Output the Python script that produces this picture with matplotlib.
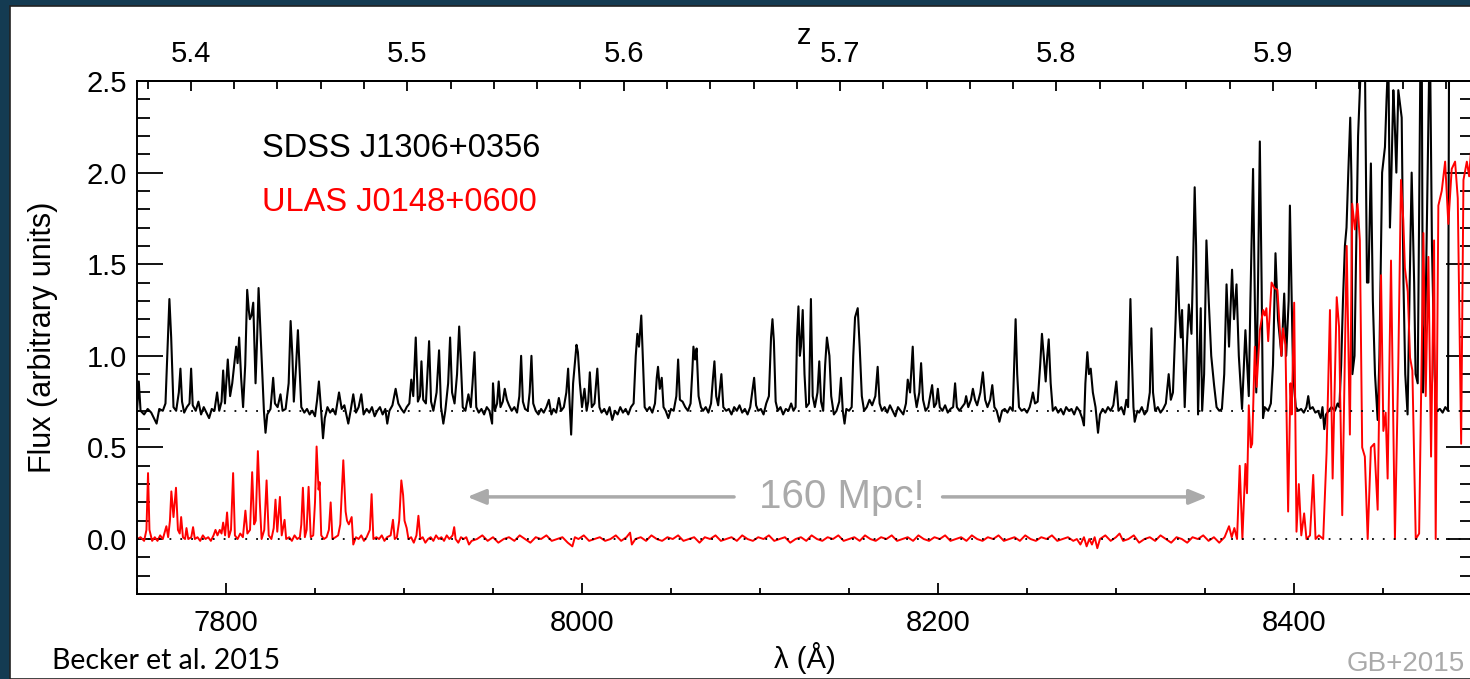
import numpy as np
import matplotlib.pyplot as plt
from matplotlib.patches import Rectangle
from matplotlib.ticker import MultipleLocator, FixedLocator

# (wavelength in Angstrom, flux)
sdss = [
    (7750.0, 0.70), (7751.0, 0.86), (7752.0, 0.70), (7754.0, 0.68), (7756.0, 0.71), (7758.0, 0.69),
    (7759.5, 0.66), (7761.0, 0.63), (7762.5, 0.71), (7764.5, 0.70), (7766.0, 0.74), (7767.2, 1.05),
    (7768.2, 1.31), (7769.2, 1.10), (7770.5, 0.72), (7772.0, 0.70), (7773.5, 0.80), (7774.4, 0.93),
    (7775.3, 0.75), (7776.5, 0.69), (7778.0, 0.72), (7779.5, 0.74), (7780.4, 0.93), (7781.3, 0.73),
    (7783.0, 0.70), (7784.5, 0.75), (7786.0, 0.68), (7787.5, 0.72), (7789.0, 0.69), (7790.5, 0.66),
    (7792.0, 0.71), (7793.5, 0.70), (7795.0, 0.80), (7796.2, 0.70), (7797.5, 0.75), (7798.4, 0.92),
    (7799.4, 0.74), (7801.0, 0.98), (7802.3, 0.78), (7803.5, 0.85), (7805.7, 1.05), (7806.5, 0.96),
    (7807.4, 1.10), (7808.5, 0.88), (7809.6, 0.72), (7810.8, 0.95), (7811.9, 1.36), (7812.8, 1.25),
    (7813.4, 1.20), (7814.3, 1.22), (7815.3, 1.29), (7816.6, 0.85), (7817.5, 1.10), (7818.3, 1.37),
    (7819.3, 1.15), (7820.3, 0.93), (7821.3, 0.70), (7822.2, 0.58), (7823.2, 0.68), (7825.0, 0.71),
    (7826.5, 0.88), (7827.5, 0.74), (7829.0, 0.72), (7830.6, 0.79), (7831.8, 0.70), (7833.5, 0.71),
    (7835.2, 0.85), (7836.3, 1.19), (7837.3, 1.00), (7838.1, 0.75), (7839.4, 0.95), (7840.4, 1.14),
    (7841.4, 0.92), (7842.3, 0.72), (7844.0, 0.69), (7845.5, 0.71), (7847.0, 0.68), (7848.5, 0.70),
    (7850.0, 0.67), (7851.2, 0.76), (7852.2, 0.86), (7853.3, 0.72), (7854.5, 0.55), (7855.5, 0.66),
    (7857.0, 0.72), (7858.5, 0.69), (7860.0, 0.71), (7861.5, 0.68), (7863.5, 0.80), (7865.0, 0.71),
    (7866.5, 0.73), (7868.7, 0.63), (7870.0, 0.70), (7871.5, 0.79), (7873.0, 0.69), (7874.5, 0.72),
    (7876.0, 0.79), (7877.3, 0.68), (7879.0, 0.71), (7880.5, 0.69), (7882.0, 0.72), (7883.5, 0.67),
    (7885.0, 0.70), (7886.5, 0.72), (7888.0, 0.68), (7889.5, 0.71), (7890.6, 0.63), (7891.8, 0.70),
    (7893.5, 0.73), (7895.3, 0.82), (7896.8, 0.74), (7898.5, 0.71), (7900.0, 0.69), (7901.5, 0.72),
    (7903.0, 0.74), (7904.1, 0.87), (7905.2, 0.78), (7906.6, 1.10), (7907.8, 0.75), (7909.0, 0.78),
    (7909.8, 0.97), (7910.8, 0.76), (7912.3, 0.74), (7914.1, 1.08), (7915.2, 0.75), (7916.5, 0.70),
    (7918.3, 0.80), (7919.7, 1.03), (7920.8, 0.72), (7922.1, 0.63), (7923.2, 0.70), (7924.8, 0.85),
    (7925.9, 1.10), (7927.0, 0.80), (7928.4, 0.74), (7929.8, 0.90), (7931.0, 1.16), (7932.0, 0.95),
    (7933.0, 0.72), (7934.5, 0.70), (7936.2, 0.79), (7937.5, 0.72), (7938.5, 0.85), (7939.6, 1.02),
    (7940.6, 0.72), (7942.0, 0.69), (7943.5, 0.71), (7945.0, 0.68), (7946.5, 0.72), (7948.0, 0.70),
    (7949.5, 0.63), (7950.0, 0.85), (7951.0, 0.70), (7952.3, 0.74), (7953.2, 0.86), (7954.2, 0.72),
    (7955.5, 0.75), (7956.6, 0.82), (7957.8, 0.76), (7959.0, 0.73), (7960.5, 0.70), (7962.0, 0.72),
    (7963.5, 0.69), (7964.8, 0.78), (7965.8, 1.00), (7966.8, 0.75), (7968.0, 0.71), (7969.5, 0.70),
    (7970.6, 0.80), (7971.6, 1.00), (7972.6, 0.74), (7974.0, 0.70), (7975.5, 0.68), (7977.0, 0.71),
    (7978.5, 0.69), (7980.0, 0.72), (7981.4, 0.76), (7982.8, 0.68), (7984.0, 0.71), (7985.5, 0.69),
    (7987.0, 0.77), (7988.3, 0.70), (7989.8, 0.72), (7991.2, 0.80), (7992.2, 0.93), (7993.0, 0.75),
    (7993.9, 0.57), (7995.0, 0.85), (7996.9, 1.06), (7997.7, 1.02), (7998.8, 0.85), (8000.0, 0.72),
    (8001.4, 0.82), (8002.6, 0.70), (8003.5, 0.75), (8004.4, 0.91), (8005.5, 0.72), (8007.0, 0.74),
    (8008.6, 0.93), (8009.8, 0.72), (8011.0, 0.69), (8012.5, 0.71), (8014.0, 0.68), (8015.5, 0.72),
    (8017.0, 0.65), (8018.5, 0.70), (8020.0, 0.68), (8021.5, 0.72), (8023.0, 0.69), (8024.5, 0.71),
    (8026.0, 0.68), (8027.5, 0.72), (8029.0, 0.74), (8030.2, 1.00), (8031.1, 1.12), (8032.0, 1.05),
    (8033.3, 1.22), (8034.3, 0.95), (8035.2, 0.72), (8036.5, 0.70), (8038.0, 0.72), (8039.5, 0.69),
    (8041.0, 0.74), (8042.0, 0.88), (8042.7, 0.94), (8043.7, 0.82), (8044.8, 0.88), (8045.8, 0.72),
    (8047.0, 0.70), (8048.5, 0.66), (8050.0, 0.71), (8051.5, 0.70), (8053.0, 0.78), (8054.0, 0.98),
    (8055.0, 0.76), (8056.5, 0.75), (8058.0, 0.72), (8059.5, 0.70), (8061.0, 0.74), (8062.0, 0.92),
    (8062.6, 1.05), (8063.5, 0.98), (8064.4, 1.04), (8065.5, 0.78), (8066.8, 0.72), (8068.0, 0.70),
    (8069.5, 0.72), (8071.0, 0.69), (8072.5, 0.74), (8073.6, 0.88), (8074.4, 0.97), (8075.4, 0.78),
    (8076.5, 0.73), (8078.3, 0.90), (8079.4, 0.72), (8081.0, 0.70), (8082.5, 0.71), (8084.0, 0.68),
    (8085.5, 0.72), (8087.0, 0.70), (8088.5, 0.73), (8090.0, 0.69), (8091.5, 0.71), (8093.0, 0.68),
    (8094.5, 0.72), (8096.7, 0.88), (8097.8, 0.73), (8099.0, 0.70), (8100.5, 0.71), (8102.0, 0.68),
    (8103.5, 0.74), (8105.0, 0.78), (8106.2, 1.10), (8107.0, 1.20), (8107.8, 1.08), (8108.8, 0.75),
    (8110.0, 0.70), (8111.5, 0.72), (8113.0, 0.68), (8114.5, 0.71), (8116.0, 0.70), (8117.5, 0.74),
    (8118.8, 0.70), (8120.0, 0.72), (8120.8, 1.10), (8121.6, 1.27), (8122.4, 1.00), (8123.0, 1.05),
    (8124.0, 1.25), (8125.0, 0.90), (8126.0, 0.72), (8127.5, 0.74), (8128.6, 1.31), (8129.6, 0.78),
    (8130.8, 0.72), (8132.3, 0.80), (8133.3, 0.97), (8134.3, 0.75), (8135.5, 0.70), (8136.6, 0.95),
    (8137.6, 1.10), (8139.0, 1.00), (8140.0, 0.78), (8141.5, 0.68), (8143.0, 0.70), (8144.5, 0.75),
    (8145.5, 0.88), (8146.5, 0.70), (8147.5, 0.63), (8148.5, 0.71), (8150.0, 0.70), (8151.5, 0.72),
    (8152.4, 1.00), (8153.4, 1.21), (8154.9, 1.26), (8156.0, 1.05), (8157.2, 0.78), (8158.5, 0.70),
    (8160.0, 0.72), (8161.5, 0.76), (8163.0, 0.73), (8164.8, 0.78), (8166.1, 0.94), (8167.2, 0.74),
    (8168.5, 0.70), (8170.0, 0.72), (8171.5, 0.69), (8173.0, 0.73), (8174.5, 0.70), (8176.0, 0.67),
    (8177.5, 0.72), (8179.0, 0.70), (8180.5, 0.68), (8182.0, 0.74), (8183.0, 0.87), (8184.3, 0.80),
    (8185.8, 1.05), (8186.8, 0.80), (8188.0, 0.72), (8189.5, 0.80), (8190.5, 0.96), (8191.6, 0.76),
    (8193.0, 0.70), (8194.5, 0.72), (8195.6, 0.78), (8196.7, 0.84), (8197.8, 0.72), (8199.0, 0.74),
    (8199.9, 0.82), (8201.0, 0.72), (8202.5, 0.70), (8204.0, 0.73), (8205.5, 0.69), (8207.0, 0.71),
    (8208.5, 0.72), (8209.6, 0.85), (8210.6, 0.72), (8212.0, 0.70), (8213.5, 0.72), (8215.0, 0.74),
    (8215.8, 0.78), (8217.0, 0.72), (8218.5, 0.76), (8219.6, 0.82), (8220.8, 0.76), (8222.0, 0.73),
    (8223.8, 0.80), (8225.2, 0.91), (8226.5, 0.76), (8227.8, 0.72), (8229.3, 0.76), (8230.5, 0.84),
    (8231.7, 0.72), (8233.0, 0.70), (8234.5, 0.64), (8236.0, 0.70), (8237.5, 0.71), (8239.0, 0.69),
    (8240.5, 0.72), (8242.0, 0.70), (8242.8, 0.95), (8243.6, 1.20), (8244.5, 0.90), (8245.5, 0.72),
    (8247.0, 0.70), (8248.5, 0.71), (8250.0, 0.69), (8251.5, 0.72), (8252.5, 0.76), (8253.3, 0.80),
    (8254.5, 0.74), (8256.0, 0.75), (8257.4, 0.95), (8258.4, 1.12), (8259.4, 1.00), (8260.5, 0.86),
    (8261.4, 1.00), (8262.2, 1.09), (8263.3, 0.85), (8264.5, 0.70), (8266.0, 0.72), (8267.5, 0.69),
    (8269.0, 0.71), (8270.5, 0.68), (8272.0, 0.72), (8273.5, 0.70), (8275.0, 0.71), (8276.5, 0.68),
    (8278.0, 0.72), (8279.5, 0.70), (8281.0, 0.66), (8282.0, 0.62), (8282.8, 0.85), (8283.9, 1.02),
    (8284.8, 0.90), (8285.8, 0.93), (8287.0, 0.80), (8288.5, 0.72), (8289.9, 0.58), (8291.0, 0.68),
    (8292.5, 0.71), (8294.0, 0.69), (8295.5, 0.72), (8297.0, 0.70), (8298.5, 0.73), (8300.2, 0.86),
    (8301.4, 0.70), (8303.0, 0.72), (8304.5, 0.68), (8305.8, 0.76), (8306.8, 0.72), (8307.4, 1.00),
    (8308.1, 1.31), (8308.9, 1.00), (8309.8, 0.72), (8310.5, 0.64), (8312.0, 0.70), (8313.0, 0.69),
    (8314.5, 0.72), (8316.0, 0.68), (8317.5, 0.70), (8319.0, 0.80), (8319.9, 1.15), (8320.8, 0.80),
    (8322.0, 0.70), (8323.5, 0.72), (8325.0, 0.69), (8326.5, 0.71), (8328.0, 0.74), (8329.6, 0.90),
    (8330.8, 0.76), (8332.0, 0.80), (8333.5, 1.20), (8334.5, 1.54), (8335.5, 1.25), (8336.4, 1.10),
    (8337.1, 1.25), (8338.0, 0.95), (8338.6, 0.72), (8339.8, 1.05), (8340.9, 1.28), (8342.4, 1.12),
    (8343.3, 1.50), (8344.2, 1.92), (8345.0, 1.60), (8346.1, 0.68), (8347.6, 1.26), (8348.4, 0.70),
    (8349.5, 0.90), (8350.8, 1.63), (8352.1, 1.30), (8353.5, 1.00), (8355.1, 0.84), (8356.5, 0.72),
    (8358.0, 0.70), (8359.5, 0.71), (8360.8, 0.90), (8362.1, 1.39), (8363.5, 1.05), (8365.2, 1.47),
    (8366.3, 1.20), (8367.7, 1.39), (8369.0, 1.00), (8370.8, 0.71), (8372.7, 1.14), (8374.6, 0.78),
    (8375.5, 1.30), (8377.0, 2.02), (8378.0, 1.30), (8378.8, 0.80), (8379.8, 1.40), (8380.8, 2.17),
    (8381.8, 1.40), (8382.6, 0.66), (8383.5, 0.72), (8385.5, 0.70), (8387.0, 0.74), (8388.2, 0.95),
    (8389.6, 1.56), (8391.0, 1.20), (8393.0, 1.00), (8394.5, 1.34), (8395.6, 1.00), (8397.0, 1.30),
    (8397.7, 1.82), (8398.5, 1.40), (8399.5, 0.90), (8401.0, 0.72), (8402.5, 0.70), (8404.0, 0.71),
    (8405.5, 0.69), (8407.0, 0.72), (8408.0, 0.78), (8409.0, 0.71), (8410.5, 0.72), (8412.0, 0.69),
    (8413.5, 0.70), (8415.0, 0.66), (8416.0, 0.72), (8417.0, 0.60), (8418.0, 0.68), (8419.5, 0.70),
    (8421.0, 0.72), (8423.0, 0.70), (8424.5, 0.74), (8425.5, 0.72), (8426.5, 0.95), (8427.5, 1.30),
    (8428.6, 1.60), (8429.5, 1.70), (8430.5, 2.00), (8431.6, 2.30), (8432.3, 1.95), (8432.8, 0.90),
    (8434.0, 1.00), (8434.8, 1.50), (8436.0, 2.20), (8437.6, 2.60), (8438.5, 2.55), (8439.9, 2.55),
    (8441.0, 1.40), (8441.8, 1.40), (8443.2, 2.05), (8444.3, 1.30), (8445.5, 0.90), (8447.0, 0.65),
    (8448.0, 1.00), (8449.5, 2.00), (8451.1, 2.14), (8452.0, 2.40), (8453.0, 2.65), (8453.9, 1.70),
    (8454.5, 1.90), (8455.8, 2.45), (8456.5, 2.30), (8457.5, 2.00), (8458.6, 2.45), (8460.5, 2.30),
    (8461.5, 1.40), (8462.5, 0.90), (8463.8, 0.68), (8465.0, 1.40), (8466.1, 2.00), (8467.5, 1.40),
    (8468.3, 0.90), (8469.5, 0.85), (8471.0, 2.60), (8471.8, 2.60), (8472.5, 0.80), (8474.0, 1.30),
    (8476.0, 2.60), (8476.5, 2.60), (8477.5, 1.60), (8479.0, 0.90), (8480.0, 0.70), (8482.0, 0.71),
    (8483.5, 0.69), (8485.0, 0.72), (8486.5, 0.70), (8487.1, 2.60),
]

ulas = [
    (7750.0, 0.00), (7752.0, 0.01), (7754.0, -0.01), (7755.3, 0.05), (7756.2, 0.36), (7757.0, 0.05),
    (7758.5, -0.01), (7760.0, 0.01), (7761.5, -0.01), (7763.0, 0.02), (7764.5, 0.00), (7766.5, 0.07),
    (7767.5, 0.01), (7768.5, 0.10), (7769.3, 0.26), (7770.5, 0.12), (7771.9, 0.28), (7773.0, 0.05),
    (7774.0, 0.03), (7774.8, 0.12), (7775.8, 0.01), (7777.0, 0.00), (7777.8, 0.06), (7778.8, 0.00),
    (7780.5, 0.01), (7781.5, 0.065), (7782.5, 0.00), (7784.0, 0.01), (7785.5, -0.01), (7787.0, 0.02),
    (7788.5, 0.00), (7790.0, 0.01), (7791.5, -0.01), (7793.0, 0.02), (7794.1, 0.05), (7795.2, 0.02),
    (7796.5, 0.05), (7797.5, 0.03), (7798.4, 0.09), (7799.5, 0.02), (7800.6, 0.145), (7801.6, 0.01),
    (7802.8, 0.05), (7804.0, 0.36), (7805.0, 0.02), (7806.5, 0.00), (7808.0, 0.03), (7809.5, 0.01),
    (7810.9, 0.155), (7812.0, 0.03), (7813.5, 0.05), (7814.7, 0.365), (7815.8, 0.08), (7816.7, 0.10),
    (7817.9, 0.48), (7819.0, 0.20), (7820.0, 0.00), (7821.5, 0.05), (7822.8, 0.32), (7824.0, 0.02),
    (7825.5, 0.00), (7826.8, 0.06), (7827.8, 0.215), (7828.8, 0.04), (7830.3, 0.23), (7831.3, 0.02),
    (7832.9, 0.105), (7833.8, 0.00), (7835.5, 0.01), (7837.0, -0.01), (7838.5, 0.02), (7840.0, 0.00),
    (7841.5, 0.01), (7842.3, 0.08), (7843.2, 0.28), (7844.3, 0.01), (7845.3, 0.05), (7846.4, 0.285),
    (7847.6, 0.01), (7849.0, 0.02), (7850.0, 0.20), (7850.9, 0.505), (7852.0, 0.27), (7852.6, 0.31),
    (7853.5, 0.02), (7855.0, 0.00), (7856.5, 0.01), (7857.8, 0.05), (7858.8, 0.20), (7859.8, 0.00),
    (7861.5, 0.01), (7863.0, 0.02), (7864.2, 0.08), (7865.9, 0.43), (7867.2, 0.15), (7868.0, 0.10),
    (7869.0, 0.08), (7870.6, 0.12), (7871.5, -0.03), (7873.0, 0.01), (7874.5, 0.00), (7876.0, 0.02),
    (7877.5, -0.01), (7879.0, 0.01), (7880.8, 0.05), (7881.8, 0.245), (7882.8, 0.00), (7884.5, 0.01),
    (7886.0, 0.00), (7887.5, 0.02), (7889.0, -0.01), (7890.5, 0.01), (7892.5, 0.02), (7893.8, 0.105),
    (7894.8, 0.00), (7896.0, 0.01), (7897.3, 0.10), (7898.5, 0.32), (7899.5, 0.24), (7900.3, 0.10),
    (7901.5, 0.06), (7902.5, 0.00), (7904.0, 0.01), (7905.5, -0.02), (7907.0, 0.02), (7908.1, 0.127),
    (7909.2, 0.00), (7910.5, 0.01), (7912.0, -0.02), (7913.5, 0.00), (7915.0, 0.01), (7916.5, -0.01),
    (7918.0, 0.02), (7919.5, 0.00), (7921.0, 0.01), (7922.5, -0.01), (7924.0, 0.02), (7925.5, 0.00),
    (7927.3, 0.02), (7928.2, 0.065), (7929.0, 0.00), (7930.5, -0.02), (7932.0, 0.01), (7933.5, 0.00),
    (7935.0, 0.01), (7936.5, -0.03), (7938.0, -0.01), (7941.0, 0.00), (7944.0, 0.02), (7947.0, -0.01),
    (7950.0, 0.01), (7953.0, -0.02), (7956.0, 0.00), (7959.0, 0.01), (7962.0, -0.01), (7965.0, 0.02),
    (7968.0, 0.00), (7971.0, -0.02), (7974.0, 0.01), (7977.0, 0.00), (7980.0, 0.02), (7983.0, -0.01),
    (7986.0, 0.00), (7989.0, 0.01), (7992.0, -0.02), (7994.6, -0.04), (7996.0, 0.01), (7998.0, 0.00),
    (8001.0, 0.02), (8004.0, -0.01), (8007.0, 0.00), (8010.0, 0.01), (8013.0, -0.01), (8016.0, 0.00),
    (8019.0, 0.02), (8022.0, -0.01), (8025.0, 0.01), (8027.0, 0.035), (8028.0, -0.03), (8030.0, 0.00),
    (8033.0, 0.01), (8036.0, -0.01), (8039.0, 0.02), (8042.0, 0.00), (8045.0, -0.01), (8048.0, 0.01),
    (8051.0, 0.00), (8054.0, 0.02), (8057.0, -0.01), (8060.0, 0.00), (8063.0, 0.01), (8066.0, -0.02),
    (8069.0, 0.01), (8072.0, 0.00), (8075.0, 0.02), (8078.0, -0.01), (8081.0, 0.00), (8084.0, 0.01),
    (8087.0, -0.01), (8090.0, 0.02), (8093.0, 0.00), (8096.0, -0.01), (8099.0, 0.01), (8102.0, 0.00),
    (8105.0, 0.02), (8108.0, -0.01), (8111.0, 0.00), (8114.0, 0.01), (8117.0, -0.02), (8120.0, 0.00),
    (8123.0, 0.01), (8126.0, -0.01), (8129.0, 0.02), (8132.0, 0.00), (8135.0, -0.01), (8138.0, 0.01),
    (8141.0, 0.00), (8144.0, 0.02), (8147.0, -0.01), (8150.0, 0.00), (8153.0, 0.01), (8156.0, -0.01),
    (8159.0, 0.02), (8162.0, 0.00), (8165.0, -0.01), (8168.0, 0.01), (8171.0, 0.00), (8174.0, 0.02),
    (8177.0, -0.01), (8180.0, 0.00), (8183.0, 0.01), (8186.0, -0.01), (8189.0, 0.02), (8192.0, 0.00),
    (8195.0, -0.01), (8198.0, 0.01), (8201.0, 0.00), (8204.0, 0.02), (8207.0, -0.01), (8210.0, 0.00),
    (8213.0, 0.01), (8216.0, -0.01), (8219.0, 0.02), (8222.0, 0.00), (8225.0, -0.01), (8228.0, 0.01),
    (8231.0, 0.00), (8234.0, 0.02), (8237.0, -0.01), (8240.0, 0.00), (8243.0, 0.01), (8246.0, -0.01),
    (8249.0, 0.02), (8252.0, 0.00), (8255.0, -0.01), (8258.0, 0.01), (8261.0, 0.00), (8264.0, 0.02),
    (8267.0, -0.01), (8270.0, 0.00), (8273.0, 0.01), (8276.0, -0.01), (8278.0, 0.00), (8280.0, -0.03),
    (8282.0, 0.01), (8283.5, -0.04), (8285.0, 0.00), (8286.5, -0.03), (8288.0, 0.01), (8289.5, -0.05),
    (8291.0, 0.00), (8294.0, 0.02), (8297.0, -0.01), (8300.0, 0.01), (8302.0, 0.03), (8304.0, -0.01),
    (8307.0, 0.00), (8310.0, 0.02), (8313.0, -0.02), (8316.0, 0.00), (8319.0, 0.01), (8322.0, -0.01),
    (8325.0, 0.02), (8328.0, 0.00), (8331.0, -0.02), (8334.0, 0.01), (8337.0, 0.00), (8340.0, -0.02),
    (8343.0, 0.01), (8346.0, 0.00), (8349.0, 0.02), (8352.0, -0.01), (8355.0, 0.01), (8358.0, -0.02),
    (8361.0, 0.01), (8363.5, 0.07), (8365.0, 0.01), (8366.5, 0.06), (8368.0, 0.00), (8369.5, 0.40),
    (8371.0, 0.00), (8372.7, 0.41), (8373.6, 0.25), (8374.6, 0.73), (8375.7, 0.50), (8376.5, 0.52),
    (8378.0, 1.05), (8379.0, 0.83), (8380.8, 1.14), (8382.7, 1.25), (8383.6, 1.22), (8384.5, 1.26),
    (8385.5, 1.08), (8387.4, 1.40), (8389.0, 1.37), (8390.7, 1.36), (8392.9, 1.00), (8393.8, 1.15),
    (8395.2, 1.06), (8396.7, 0.15), (8398.0, 0.85), (8398.7, 0.68), (8400.1, 1.29), (8401.4, 0.04),
    (8402.7, 0.30), (8404.1, 0.02), (8405.7, 0.14), (8407.0, 0.00), (8409.0, 0.02), (8410.8, 0.35),
    (8412.1, 0.00), (8414.0, 0.02), (8416.4, 0.00), (8418.3, 0.47), (8420.2, 1.25), (8421.7, 0.33),
    (8424.0, 1.32), (8425.3, 1.16), (8427.1, 0.13), (8429.6, 1.60), (8431.4, 0.57), (8432.7, 1.83),
    (8434.2, 1.69), (8435.7, 1.83), (8437.0, 1.63), (8438.3, 0.50), (8439.8, 0.45), (8441.4, 0.00),
    (8443.2, 0.50), (8445.1, 0.52), (8447.0, 0.16), (8448.9, 1.44), (8450.2, 0.59), (8451.5, 0.69),
    (8452.6, 0.33), (8454.5, 1.52), (8456.7, 0.00), (8458.6, 0.96), (8460.1, 1.96), (8461.4, 1.74),
    (8462.3, 1.48), (8463.9, 1.35), (8465.2, 0.99), (8466.5, 0.92), (8468.4, 0.00), (8470.3, 0.03),
    (8472.7, 1.67), (8474.0, 0.78), (8475.5, 1.54), (8477.0, 0.45), (8478.7, 1.63), (8479.6, 0.00),
    (8481.1, 1.82), (8483.0, 1.90), (8484.9, 2.06), (8486.7, 1.72), (8488.6, 2.02), (8490.5, 2.06),
    (8492.0, 1.86), (8493.9, 0.52), (8495.2, 1.96), (8497.1, 2.06), (8498.4, 1.98), (8499.9, 2.18),
    (8501.0, 2.10),
]

sdss_name = 'SDSS J1306+0356'
ulas_name = 'ULAS J0148+0600'
sdss_level = 0.7
lya = 1215.67
z_ticks = [5.4, 5.5, 5.6, 5.7, 5.8, 5.9]

sdss_wave, sdss_flux = np.array(sdss).T
ulas_wave, ulas_flux = np.array(ulas).T

plt.rcParams['font.family'] = ['Liberation Sans', 'DejaVu Sans']

fig = plt.figure(figsize=(14.7, 6.79), dpi=100, facecolor='#143b52')
fig.patches.append(Rectangle((10 / 1470, 0), 1, 1 - 6 / 679, transform=fig.transFigure,
                             facecolor='white', edgecolor='#222222', lw=1.2, zorder=-10))

ax = fig.add_axes([137 / 1470, 85 / 679, 1335 / 1470, 513 / 679])
ax.set_facecolor('none')
ax.plot(sdss_wave, sdss_flux, color='black', lw=1.5)
ax.plot(ulas_wave, ulas_flux, color='#ff0000', lw=1.4)
ax.axhline(sdss_level, color='black', ls=(0, (1, 5)), lw=1.3)
ax.axhline(0.0, color='black', ls=(0, (1, 5)), lw=1.3)

ax.set_xlim(7750, 8500)
ax.set_ylim(-0.3, 2.5)
ax.xaxis.set_major_locator(MultipleLocator(200))
ax.xaxis.set_minor_locator(MultipleLocator(50))
ax.yaxis.set_major_locator(MultipleLocator(0.5))
ax.yaxis.set_minor_locator(MultipleLocator(0.1))
ax.yaxis.set_major_formatter(plt.FormatStrFormatter('%.1f'))
for s in ax.spines.values():
    s.set_linewidth(1.4)
ax.tick_params(axis='x', which='major', direction='in', length=8, width=1.3,
               labelsize=21, pad=11, top=False)
ax.tick_params(axis='x', which='minor', direction='in', length=4, width=1.3, top=False)
ax.tick_params(axis='y', which='major', direction='in', length=19, width=1.3,
               labelsize=21, pad=7, right=True)
ax.tick_params(axis='y', which='minor', direction='in', length=9, width=1.3, right=True)

secax = ax.secondary_xaxis('top', functions=(lambda w: w / lya - 1, lambda z: (z + 1) * lya))
secax.xaxis.set_major_locator(FixedLocator(z_ticks))
secax.xaxis.set_minor_locator(MultipleLocator(0.02))
secax.xaxis.set_major_formatter(plt.FormatStrFormatter('%.1f'))
secax.spines['top'].set_linewidth(1.4)
secax.tick_params(which='major', direction='in', length=7, width=1.3, labelsize=21, pad=9)
secax.tick_params(which='minor', direction='in', length=6, width=1.3)

ax.set_ylabel('Flux (arbitrary units)', fontsize=22)
ax.yaxis.set_label_coords(-0.059, 0.5)
ax.set_xlabel('λ (Å)', fontsize=21)
ax.xaxis.set_label_coords(0.5, -0.094)
ax.text(0.5, 1.087, 'z', transform=ax.transAxes, fontsize=21, ha='center', va='center')

ax.text(0.094, 0.869, sdss_name, transform=ax.transAxes, fontsize=23.5, color='black',
        ha='left', va='center')
ax.text(0.094, 0.764, ulas_name, transform=ax.transAxes, fontsize=23.5, color='#ff0000',
        ha='left', va='center')

grey = '#aaaaaa'
ax.text(8146, 0.23, '160 Mpc!', fontsize=29, color=grey, ha='center', va='center')
ax.annotate('', xy=(7934, 0.23), xytext=(8087, 0.23),
            arrowprops=dict(arrowstyle='-|>,head_length=1.1,head_width=0.45', color=grey, lw=2.5))
ax.annotate('', xy=(8353, 0.23), xytext=(8201, 0.23),
            arrowprops=dict(arrowstyle='-|>,head_length=1.1,head_width=0.45', color=grey, lw=2.5))

fig.text(52 / 1470, 1 - 661 / 679, 'Becker et al. 2015', fontsize=20.5, family=['Lato', 'DejaVu Sans'],
         ha='left', va='center', color='black')
fig.text(1347 / 1470, 1 - 664 / 679, 'GB+2015', fontsize=20, color=grey, ha='left', va='center')

fig.savefig('out.png', dpi=100, facecolor=fig.get_facecolor())
